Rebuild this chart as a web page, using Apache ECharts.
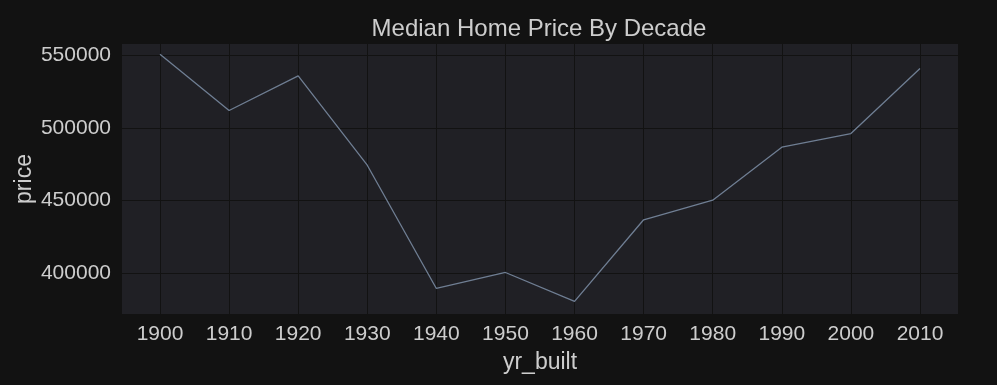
<!DOCTYPE html>
<html><head><meta charset="utf-8">
<script src="https://cdn.jsdelivr.net/npm/echarts@6/dist/echarts.min.js"></script>
<style>html,body{margin:0;padding:0;background:#121212;}#c{width:997px;height:385px;}</style>
</head><body><div id="c"></div>
<script>
const years = [1900,1910,1920,1930,1940,1950,1960,1970,1980,1990,2000,2010];
const prices = [550700,512000,535800,474300,389400,400400,380500,436700,450200,486700,496100,540900];
const xTicks = [1900,1910,1920,1930,1940,1950,1960,1970,1980,1990,2000,2010];
const yTicks = [400000,450000,500000,550000];

const chart = echarts.init(document.getElementById('c'));
const txt = '#cdcdcd';
const font = 'Liberation Sans, Arial, sans-serif';
chart.setOption({
  backgroundColor: '#121212',
  animation: false,
  title: {
    text: 'Median Home Price By Decade',
    left: 534, top: 12, textAlign: 'center',
    textStyle: {color: txt, fontSize: 24, fontWeight: 'normal', fontFamily: font}
  },
  grid: {left: 122, right: 39, top: 44, bottom: 71, show: true, backgroundColor: '#202025', borderWidth: 0,
         containLabel: false, outerBoundsMode: 'none'},
  xAxis: {
    type: 'value', min: 1894.5, max: 2015.5,
    name: 'yr_built', nameLocation: 'middle', nameGap: 37, nameMoveOverlap: false,
    nameTextStyle: {color: txt, fontSize: 23, fontFamily: font},
    axisLine: {show: false},
    axisTick: {show: false, customValues: xTicks},
    axisLabel: {customValues: xTicks, color: txt, fontSize: 21, fontFamily: font, margin: 10,
                formatter: v => String(v)},
    splitLine: {show: true, lineStyle: {color: '#121212', width: 1}}
  },
  yAxis: {
    type: 'value', min: 371800, max: 557800,
    name: 'price', nameLocation: 'middle', nameGap: 86, nameRotate: 90, nameMoveOverlap: false,
    nameTextStyle: {color: txt, fontSize: 23, fontFamily: font},
    axisLine: {show: false},
    axisTick: {show: false, customValues: yTicks},
    axisLabel: {customValues: yTicks, color: txt, fontSize: 21, fontFamily: font, margin: 11,
                formatter: v => String(v)},
    splitLine: {show: true, lineStyle: {color: '#121212', width: 1}}
  },
  series: [{
    type: 'line',
    data: years.map((y, i) => [y, prices[i]]),
    showSymbol: false,
    lineStyle: {color: '#6f7e93', width: 1.3},
    itemStyle: {color: '#6f7e93'}
  }]
});
</script></body></html>
